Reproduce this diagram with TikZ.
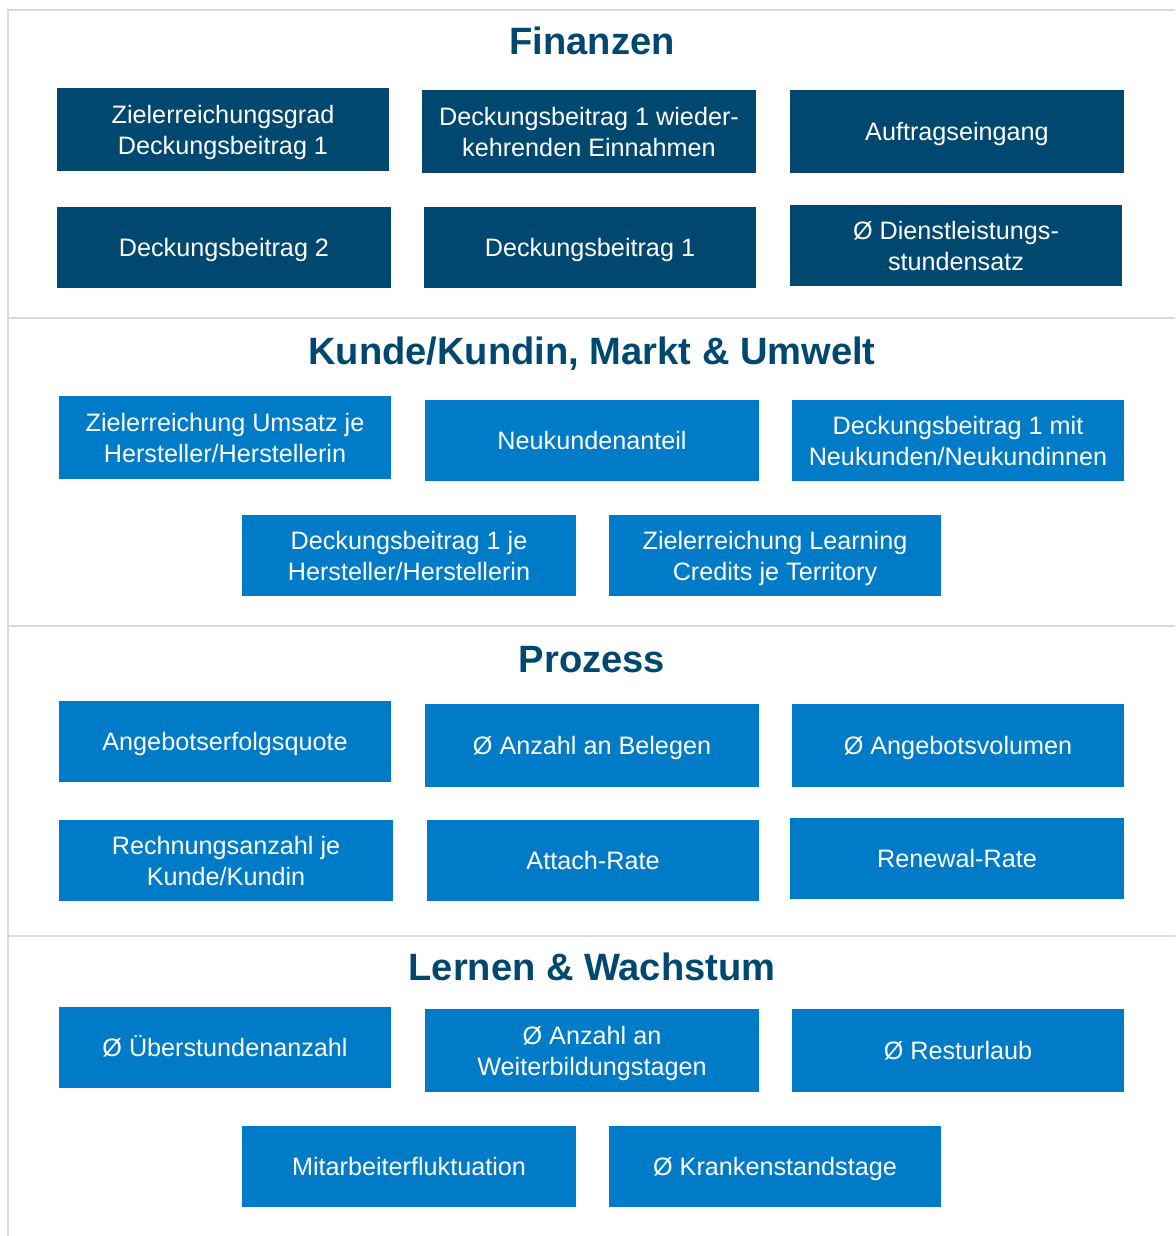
\documentclass[tikz,border=0pt]{standalone}
\usepackage{fontspec}
\setmainfont{Liberation Sans}
\definecolor{navy}{HTML}{004870}
\definecolor{bright}{HTML}{007BC7}
\definecolor{rule}{HTML}{D9DADC}
\begin{document}
\begin{tikzpicture}[x=1pt,y=-1pt,
  kpi/.style={rectangle, inner sep=0pt, align=center, text=white,
    font=\fontsize{25.2}{31}\selectfont, text height=18pt, text depth=0pt},
  two/.style={text height=49pt},
  fin/.style={kpi, fill=navy},
  blu/.style={kpi, fill=bright},
  head/.style={text=navy, inner sep=0pt, text height=27.3pt, text depth=0pt,
    font=\fontsize{38.1}{44}\selectfont\bfseries},
  sep/.style={draw=rule, line width=2pt}]
\useasboundingbox (0,0) rectangle (1175,1236);
% frame and section rules
\coordinate (tl) at (8,10);
\coordinate (tr) at (1175,10);
\coordinate (bl) at (8,1236);
\draw[sep] (bl) -- (tl) -- (tr);
\foreach \yy [count=\k] in {318,626,936} {
  \coordinate (sl\k) at (8,\yy);
  \coordinate (sr\k) at (1175,\yy);
  \draw[sep] (sl\k) -- (sr\k);
}
% section headings
\node[head] (h1) at (592,41) {Finanzen};
\node[head] (h2) at (592,351) {Kunde/Kundin, Markt \& Umwelt};
\node[head] (h3) at (592,659) {Prozess};
\node[head] (h4) at (592,967) {Lernen \& Wachstum};
% Finanzen
\node[fin, two, minimum width=332, minimum height=83] (a) at (223,129.5) {Zielerreichungsgrad\\Deckungsbeitrag 1};
\node[fin, two, minimum width=334, minimum height=83] (b) at (589,131.5) {Deckungsbeitrag 1 wieder-\\kehrenden Einnahmen};
\node[fin, minimum width=334, minimum height=83] (c) at (957,131.5) {Auftragseingang};
\node[fin, minimum width=334, minimum height=81] (d) at (224,247.5) {Deckungsbeitrag 2};
\node[fin, minimum width=332, minimum height=81] (e) at (590,247.5) {Deckungsbeitrag 1};
\node[fin, two, minimum width=332, minimum height=81] (f) at (956,245.5) {Ø Dienstleistungs-\\stundensatz};
% Kunde/Kundin, Markt & Umwelt
\node[blu, two, minimum width=332, minimum height=83] (g) at (225,437.5) {Zielerreichung Umsatz je\\Hersteller/Herstellerin};
\node[blu, minimum width=334, minimum height=81] (h) at (592,440.5) {Neukundenanteil};
\node[blu, two, minimum width=332, minimum height=81] (i) at (958,440.5) {Deckungsbeitrag 1 mit\\Neukunden/Neukundinnen};
\node[blu, two, minimum width=334, minimum height=81] (j) at (409,555.5) {Deckungsbeitrag 1 je\\Hersteller/Herstellerin};
\node[blu, two, minimum width=332, minimum height=81] (k) at (775,555.5) {Zielerreichung Learning\\Credits je Territory};
% Prozess
\node[blu, minimum width=332, minimum height=81] (l) at (225,741.5) {Angebotserfolgsquote};
\node[blu, minimum width=334, minimum height=83] (m) at (592,745.5) {Ø Anzahl an Belegen};
\node[blu, minimum width=332, minimum height=83] (n) at (958,745.5) {Ø Angebotsvolumen};
\node[blu, two, minimum width=334, minimum height=81] (o) at (226,860.5) {Rechnungsanzahl je\\Kunde/Kundin};
\node[blu, minimum width=332, minimum height=81] (p) at (593,860.5) {Attach-Rate};
\node[blu, minimum width=334, minimum height=81] (q) at (957,858.5) {Renewal-Rate};
% Lernen & Wachstum
\node[blu, minimum width=332, minimum height=81] (r) at (225,1047.5) {Ø Überstundenanzahl};
\node[blu, two, minimum width=334, minimum height=83] (s) at (592,1050.5) {Ø Anzahl an\\Weiterbildungstagen};
\node[blu, minimum width=332, minimum height=83] (t) at (958,1050.5) {Ø Resturlaub};
\node[blu, minimum width=334, minimum height=81] (u) at (409,1166.5) {Mitarbeiterfluktuation};
\node[blu, minimum width=332, minimum height=81] (v) at (775,1166.5) {Ø Krankenstandstage};
\end{tikzpicture}
\end{document}
